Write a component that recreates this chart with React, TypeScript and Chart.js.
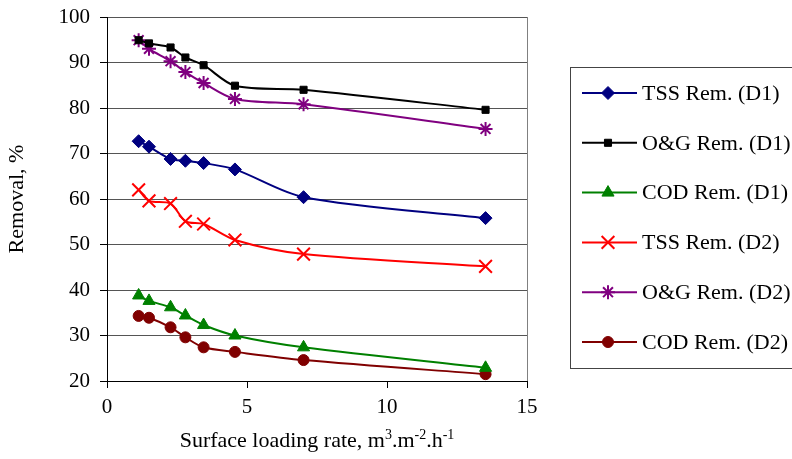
import React, { useEffect, useRef } from 'react';
import { Chart, registerables } from 'chart.js';
import { drawPoint } from 'chart.js/helpers';

Chart.register(...registerables);

// Surface loading rate (m3.m-2.h-1) and removal efficiencies (%)
const loadingRates = [1.13, 1.5, 2.27, 2.8, 3.45, 4.57, 7.02, 13.52];
const tssD1 = [72.7, 71.5, 68.8, 68.4, 67.9, 66.5, 60.4, 55.8];
const ogD1 = [94.9, 94.2, 93.3, 91.1, 89.4, 84.9, 84.0, 79.6];
const codD1 = [38.8, 37.6, 36.2, 34.4, 32.3, 30.0, 27.4, 22.9];
const tssD2 = [62.0, 59.6, 59.0, 55.1, 54.5, 51.0, 47.9, 45.2];
const ogD2 = [94.9, 93.0, 90.3, 87.9, 85.5, 82.0, 80.8, 75.4];
const codD2 = [34.3, 33.9, 31.8, 29.6, 27.4, 26.4, 24.6, 21.5];

const seriesLabels = [
  'TSS Rem. (D1)',
  'O&G Rem. (D1)',
  'COD Rem. (D1)',
  'TSS Rem. (D2)',
  'O&G Rem. (D2)',
  'COD Rem. (D2)',
];

const FONT = "'Liberation Serif', 'Times New Roman', serif";

type Style = { color: string; pointStyle: string; radius: number; borderWidth: number };

const styles: Style[] = [
  { color: '#000080', pointStyle: 'rectRot', radius: 6.5, borderWidth: 1 },
  { color: '#000000', pointStyle: 'rect', radius: 5, borderWidth: 1 },
  { color: '#008000', pointStyle: 'triangle', radius: 7, borderWidth: 1 },
  { color: '#ff0000', pointStyle: 'crossRot', radius: 9, borderWidth: 2 },
  { color: '#800080', pointStyle: 'star', radius: 7, borderWidth: 2 },
  { color: '#800000', pointStyle: 'circle', radius: 5.5, borderWidth: 1 },
];

const seriesValues = [tssD1, ogD1, codD1, tssD2, ogD2, codD2];

const overlay = {
  id: 'overlay',
  afterDraw(chart: any) {
    const ctx = chart.ctx as CanvasRenderingContext2D;
    const area = chart.chartArea;
    ctx.save();

    // right-hand frame of the plot area
    ctx.strokeStyle = '#808080';
    ctx.lineWidth = 1;
    ctx.beginPath();
    ctx.moveTo(area.right + 0.5, area.top);
    ctx.lineTo(area.right + 0.5, area.bottom);
    ctx.stroke();

    // x-axis title with superscripts
    const parts: [string, boolean][] = [
      ['Surface loading rate, m', false],
      ['3', true],
      ['.m', false],
      ['-2', true],
      ['.h', false],
      ['-1', true],
    ];
    const mainFont = `22px ${FONT}`;
    const supFont = `14px ${FONT}`;
    let total = 0;
    for (const [t, sup] of parts) {
      ctx.font = sup ? supFont : mainFont;
      total += ctx.measureText(t).width;
    }
    let x = (area.left + area.right) / 2 - total / 2;
    const baseY = 447;
    ctx.fillStyle = '#000';
    ctx.textBaseline = 'alphabetic';
    ctx.textAlign = 'left';
    for (const [t, sup] of parts) {
      ctx.font = sup ? supFont : mainFont;
      ctx.fillText(t, x, sup ? baseY - 8 : baseY);
      x += ctx.measureText(t).width;
    }

    // legend box
    ctx.strokeStyle = '#444';
    ctx.lineWidth = 1;
    ctx.strokeRect(570.5, 67.5, 260, 301);

    ctx.font = `22px ${FONT}`;
    ctx.textBaseline = 'middle';
    seriesLabels.forEach((label, i) => {
      const s = styles[i];
      const y = 93 + i * 49.8;
      ctx.strokeStyle = s.color;
      ctx.fillStyle = s.color;
      ctx.lineWidth = 2;
      ctx.beginPath();
      ctx.moveTo(582, y);
      ctx.lineTo(637, y);
      ctx.stroke();
      ctx.lineWidth = s.borderWidth;
      drawPoint(ctx, { pointStyle: s.pointStyle as any, radius: s.radius, rotation: 0, borderWidth: s.borderWidth }, 608, y);
      ctx.fillStyle = '#000';
      ctx.fillText(label, 642, y + 1);
    });

    ctx.restore();
  },
};

export default function App() {
  const canvasRef = useRef<HTMLCanvasElement | null>(null);

  useEffect(() => {
    if (!canvasRef.current) return;
    const datasets = seriesLabels.map((label, i) => {
      const s = styles[i];
      return {
        label,
        data: loadingRates.map((x, j) => ({ x, y: seriesValues[i][j] })),
        borderColor: s.color,
        backgroundColor: s.color,
        borderWidth: 2,
        pointStyle: s.pointStyle,
        pointRadius: s.radius,
        pointBorderWidth: s.borderWidth,
        pointBorderColor: s.color,
        pointBackgroundColor: s.color,
        tension: 0.3,
        showLine: true,
        clip: false as any,
      };
    });

    const chart = new Chart(canvasRef.current, {
      type: 'scatter',
      data: { datasets: datasets as any },
      options: {
        animation: false,
        responsive: false,
        devicePixelRatio: 1,
        layout: { padding: { top: 17, right: 265, left: 0, bottom: 0 } },
        plugins: {
          legend: { display: false },
          tooltip: { enabled: false },
        },
        scales: {
          x: {
            type: 'linear',
            min: 0,
            max: 15,
            ticks: {
              stepSize: 5,
              color: '#000',
              font: { family: FONT, size: 21 },
              padding: 7,
              maxRotation: 0,
            },
            grid: {
              drawOnChartArea: false,
              drawTicks: true,
              tickLength: 7,
              tickColor: '#000',
            },
            border: { color: '#000', width: 1 },
            afterFit: (scale: any) => {
              scale.height = 78;
              scale.paddingLeft = 0;
              scale.paddingRight = 0;
            },
          },
          y: {
            type: 'linear',
            min: 20,
            max: 100,
            ticks: {
              stepSize: 10,
              color: '#000',
              font: { family: FONT, size: 21 },
              padding: 10,
            },
            grid: {
              color: '#555',
              lineWidth: 1,
              drawTicks: true,
              tickLength: 7,
              tickColor: '#000',
            },
            border: { color: '#000', width: 1 },
            title: {
              display: true,
              text: 'Removal, %',
              color: '#000',
              font: { family: FONT, size: 22 },
              padding: { top: 4, bottom: 0 },
            },
            afterFit: (scale: any) => {
              scale.width = 107;
              scale.paddingTop = 0;
              scale.paddingBottom = 0;
            },
          },
        },
      },
      plugins: [overlay],
    });

    return () => chart.destroy();
  }, []);

  return (
    <div style={{ position: 'fixed', left: 0, top: 0, width: 792, height: 459, background: '#fff' }}>
      <canvas ref={canvasRef} width={792} height={459} />
    </div>
  );
}
